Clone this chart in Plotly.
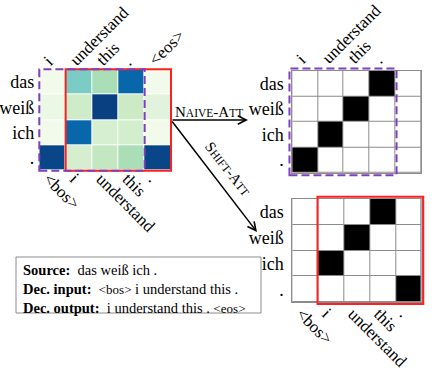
import plotly.graph_objects as go

# ---------------- data ----------------
src_tokens = ["das", "weiß", "ich", "."]
dec_input = ["<bos>", "i", "understand", "this", "."]
dec_output = ["i", "understand", "this", ".", "<eos>"]

# soft attention (rows = source tokens, cols = decoder positions)
soft_attn = [
    [0.03, 0.50, 0.37, 0.88, 0.03],
    [0.06, 0.24, 1.00, 0.25, 0.12],
    [0.03, 0.88, 0.19, 0.21, 0.03],
    [0.98, 0.20, 0.28, 0.37, 0.98],
]
naive_attn = [
    [0, 0, 0, 1, 0],
    [0, 0, 1, 0, 0],
    [0, 1, 0, 0, 0],
    [1, 0, 0, 0, 0],
]
shift_attn = [
    [0, 0, 0, 1, 0],
    [0, 0, 1, 0, 0],
    [0, 1, 0, 0, 0],
    [0, 0, 0, 0, 1],
]
box_lines = [
    ("Source:", "das weiß ich ."),
    ("Dec. input:", "<bos> i understand this ."),
    ("Dec. output:", "i understand this . <eos>"),
]

# ---------------- style ----------------
W, H = 436, 371
FONT = "Liberation Serif"
GRID = "#8c8c8c"
RED = "#ff1f1f"
PURPLE = "#7f3fbf"
gnbu = ["rgb(247,252,240)", "rgb(224,243,219)", "rgb(204,235,197)", "rgb(168,221,181)",
        "rgb(123,204,196)", "rgb(78,179,211)", "rgb(43,140,190)", "rgb(8,104,172)", "rgb(8,64,129)"]
gnbu_scale = [[i / 8, c] for i, c in enumerate(gnbu)]


def esc(s):
    return s.replace("<", "&lt;").replace(">", "&gt;")


def esc_small(s):
    out = []
    for w in s.split(" "):
        if w.startswith("<"):
            out.append("<span style='font-size:13px'>" + esc(w) + "</span>")
        else:
            out.append(w)
    return " ".join(out)


def px(x):
    return x / W


def py(y):
    return 1 - y / H


cols = list(range(5))
rows = list(range(4))

fig = go.Figure()
fig.add_trace(go.Heatmap(z=soft_attn, x=cols, y=rows, colorscale=gnbu_scale, zmin=0, zmax=1,
                         xgap=1, ygap=1, showscale=False, hoverinfo="skip", xaxis="x", yaxis="y"))
# same matrix on the overlaid top axis (transparent) so its tick labels are drawn
fig.add_trace(go.Heatmap(z=soft_attn, x=cols, y=rows, colorscale=gnbu_scale, zmin=0, zmax=1,
                         opacity=0, showscale=False, hoverinfo="skip", xaxis="x4", yaxis="y"))
fig.add_trace(go.Heatmap(z=naive_attn, x=cols, y=rows, colorscale=[[0, "white"], [1, "black"]],
                         zmin=0, zmax=1, xgap=1, ygap=1, showscale=False, hoverinfo="skip",
                         xaxis="x2", yaxis="y2"))
fig.add_trace(go.Heatmap(z=shift_attn, x=cols, y=rows, colorscale=[[0, "white"], [1, "black"]],
                         zmin=0, zmax=1, xgap=1, ygap=1, showscale=False, hoverinfo="skip",
                         xaxis="x3", yaxis="y3"))

lab_font = dict(family=FONT, size=18, color="black")
xlab_font = dict(family=FONT, size=17, color="black")


def xax(domain, anchor, labels, side, angle, showline):
    top = side == "top"
    return dict(domain=domain, anchor=anchor, range=[-0.5, 4.5], tickmode="array",
                tickvals=cols, ticktext=[esc(t) for t in labels], side=side, tickangle=angle,
                ticks="", showgrid=False, zeroline=False, tickfont=xlab_font, automargin=False,
                showline=showline, mirror=showline, linecolor=GRID, linewidth=1,
                ticklabelstandoff=-4 if top else -6, ticklabelshift=-8 if top else -4,
                fixedrange=True)


def yax(domain, anchor, showline):
    return dict(domain=domain, anchor=anchor, range=[3.5, -0.5], tickmode="array",
                tickvals=rows, ticktext=src_tokens, ticks="", showgrid=False, zeroline=False,
                tickfont=lab_font, showline=showline, mirror=showline, linecolor=GRID,
                linewidth=1, fixedrange=True, ticklabelstandoff=4, automargin=False)


d1x, d1y = [px(39.3), px(171)], [py(170.7), py(69.3)]
d2x, d2y = [px(292.3), px(421)], [py(172.7), py(70.7)]
d3x, d3y = [px(292.3), px(421.7)], [py(302.3), py(199)]

fig.update_layout(
    width=W, height=H, margin=dict(l=0, r=0, t=0, b=0, autoexpand=False),
    paper_bgcolor="white", plot_bgcolor="white", showlegend=False,
    font=dict(family=FONT, color="black"),
    xaxis=xax(d1x, "y", dec_input, "bottom", 45, False),
    yaxis=yax(d1y, "x", False),
    xaxis4=dict(xax(d1x, "y", dec_output, "top", -45, False), overlaying="x"),
    xaxis2=xax(d2x, "y2", dec_output, "top", -45, True),
    yaxis2=yax(d2y, "x2", True),
    xaxis3=xax(d3x, "y3", dec_input, "bottom", 45, True),
    yaxis3=yax(d3y, "x3", True),
)

# grey background behind the binary grids so gaps read as grid lines
for k in ("2", "3"):
    fig.add_shape(type="rect", xref=f"x{k} domain", yref=f"y{k} domain", x0=0, x1=1, y0=0, y1=1,
                  fillcolor=GRID, line=dict(width=0), layer="below")

# highlight frames (domain references so they are not clipped)
fig.add_shape(type="rect", xref="x domain", yref="y domain", x0=1 / 5, x1=1.0, y0=0, y1=1,
              line=dict(color=RED, width=2))
fig.add_shape(type="rect", xref="x domain", yref="y domain", x0=0, x1=4 / 5, y0=0, y1=1,
              line=dict(color=PURPLE, width=2, dash="8px,4px"))
fig.add_shape(type="rect", xref="x2 domain", yref="y2 domain", x0=-0.022, x1=0.81, y0=-0.025, y1=1.022,
              line=dict(color=PURPLE, width=2, dash="8px,4px"))
fig.add_shape(type="rect", xref="x3 domain", yref="y3 domain", x0=0.195, x1=1.012, y0=-0.017, y1=1.022,
              line=dict(color=RED, width=2))

# arrows
fig.add_annotation(xref="paper", yref="paper", x=px(248), y=py(120), ax=-77, ay=0,
                   axref="pixel", ayref="pixel", text="", showarrow=True, arrowhead=5,
                   arrowsize=1.1, arrowwidth=1.5, arrowcolor="black", standoff=0)
fig.add_annotation(xref="paper", yref="paper", x=px(257), y=py(232), ax=-86, ay=-112,
                   axref="pixel", ayref="pixel", text="", showarrow=True, arrowhead=5,
                   arrowsize=1.1, arrowwidth=1.5, arrowcolor="black", standoff=0)

sc = "<span style='font-size:11.5px'>{}</span>"
fig.add_annotation(xref="paper", yref="paper", x=px(209), y=py(102), showarrow=False,
                   text="N" + sc.format("AIVE") + "-A" + sc.format("TT"),
                   font=dict(family=FONT, size=15, color="black"))
fig.add_annotation(xref="paper", yref="paper", x=px(228), y=py(169), showarrow=False,
                   textangle=52, text="S" + sc.format("HIFT") + "-A" + sc.format("TT"),
                   font=dict(family=FONT, size=15, color="black"))

# text box
fig.add_shape(type="rect", xref="paper", yref="paper", x0=px(16), x1=px(261), y0=py(313), y1=py(257),
              line=dict(color=GRID, width=1), fillcolor="white")
box_text = "<br>".join(f"<b>{esc(a)}</b>  {esc_small(b)}" for a, b in box_lines)
fig.add_annotation(xref="paper", yref="paper", x=px(21), y=py(289), xanchor="left",
                   yanchor="middle", align="left", showarrow=False, text=box_text,
                   font=dict(family=FONT, size=14.5, color="black"))

fig.write_html("out.html", post_script="document.body.style.margin='0';",
               config={"displayModeBar": False})
